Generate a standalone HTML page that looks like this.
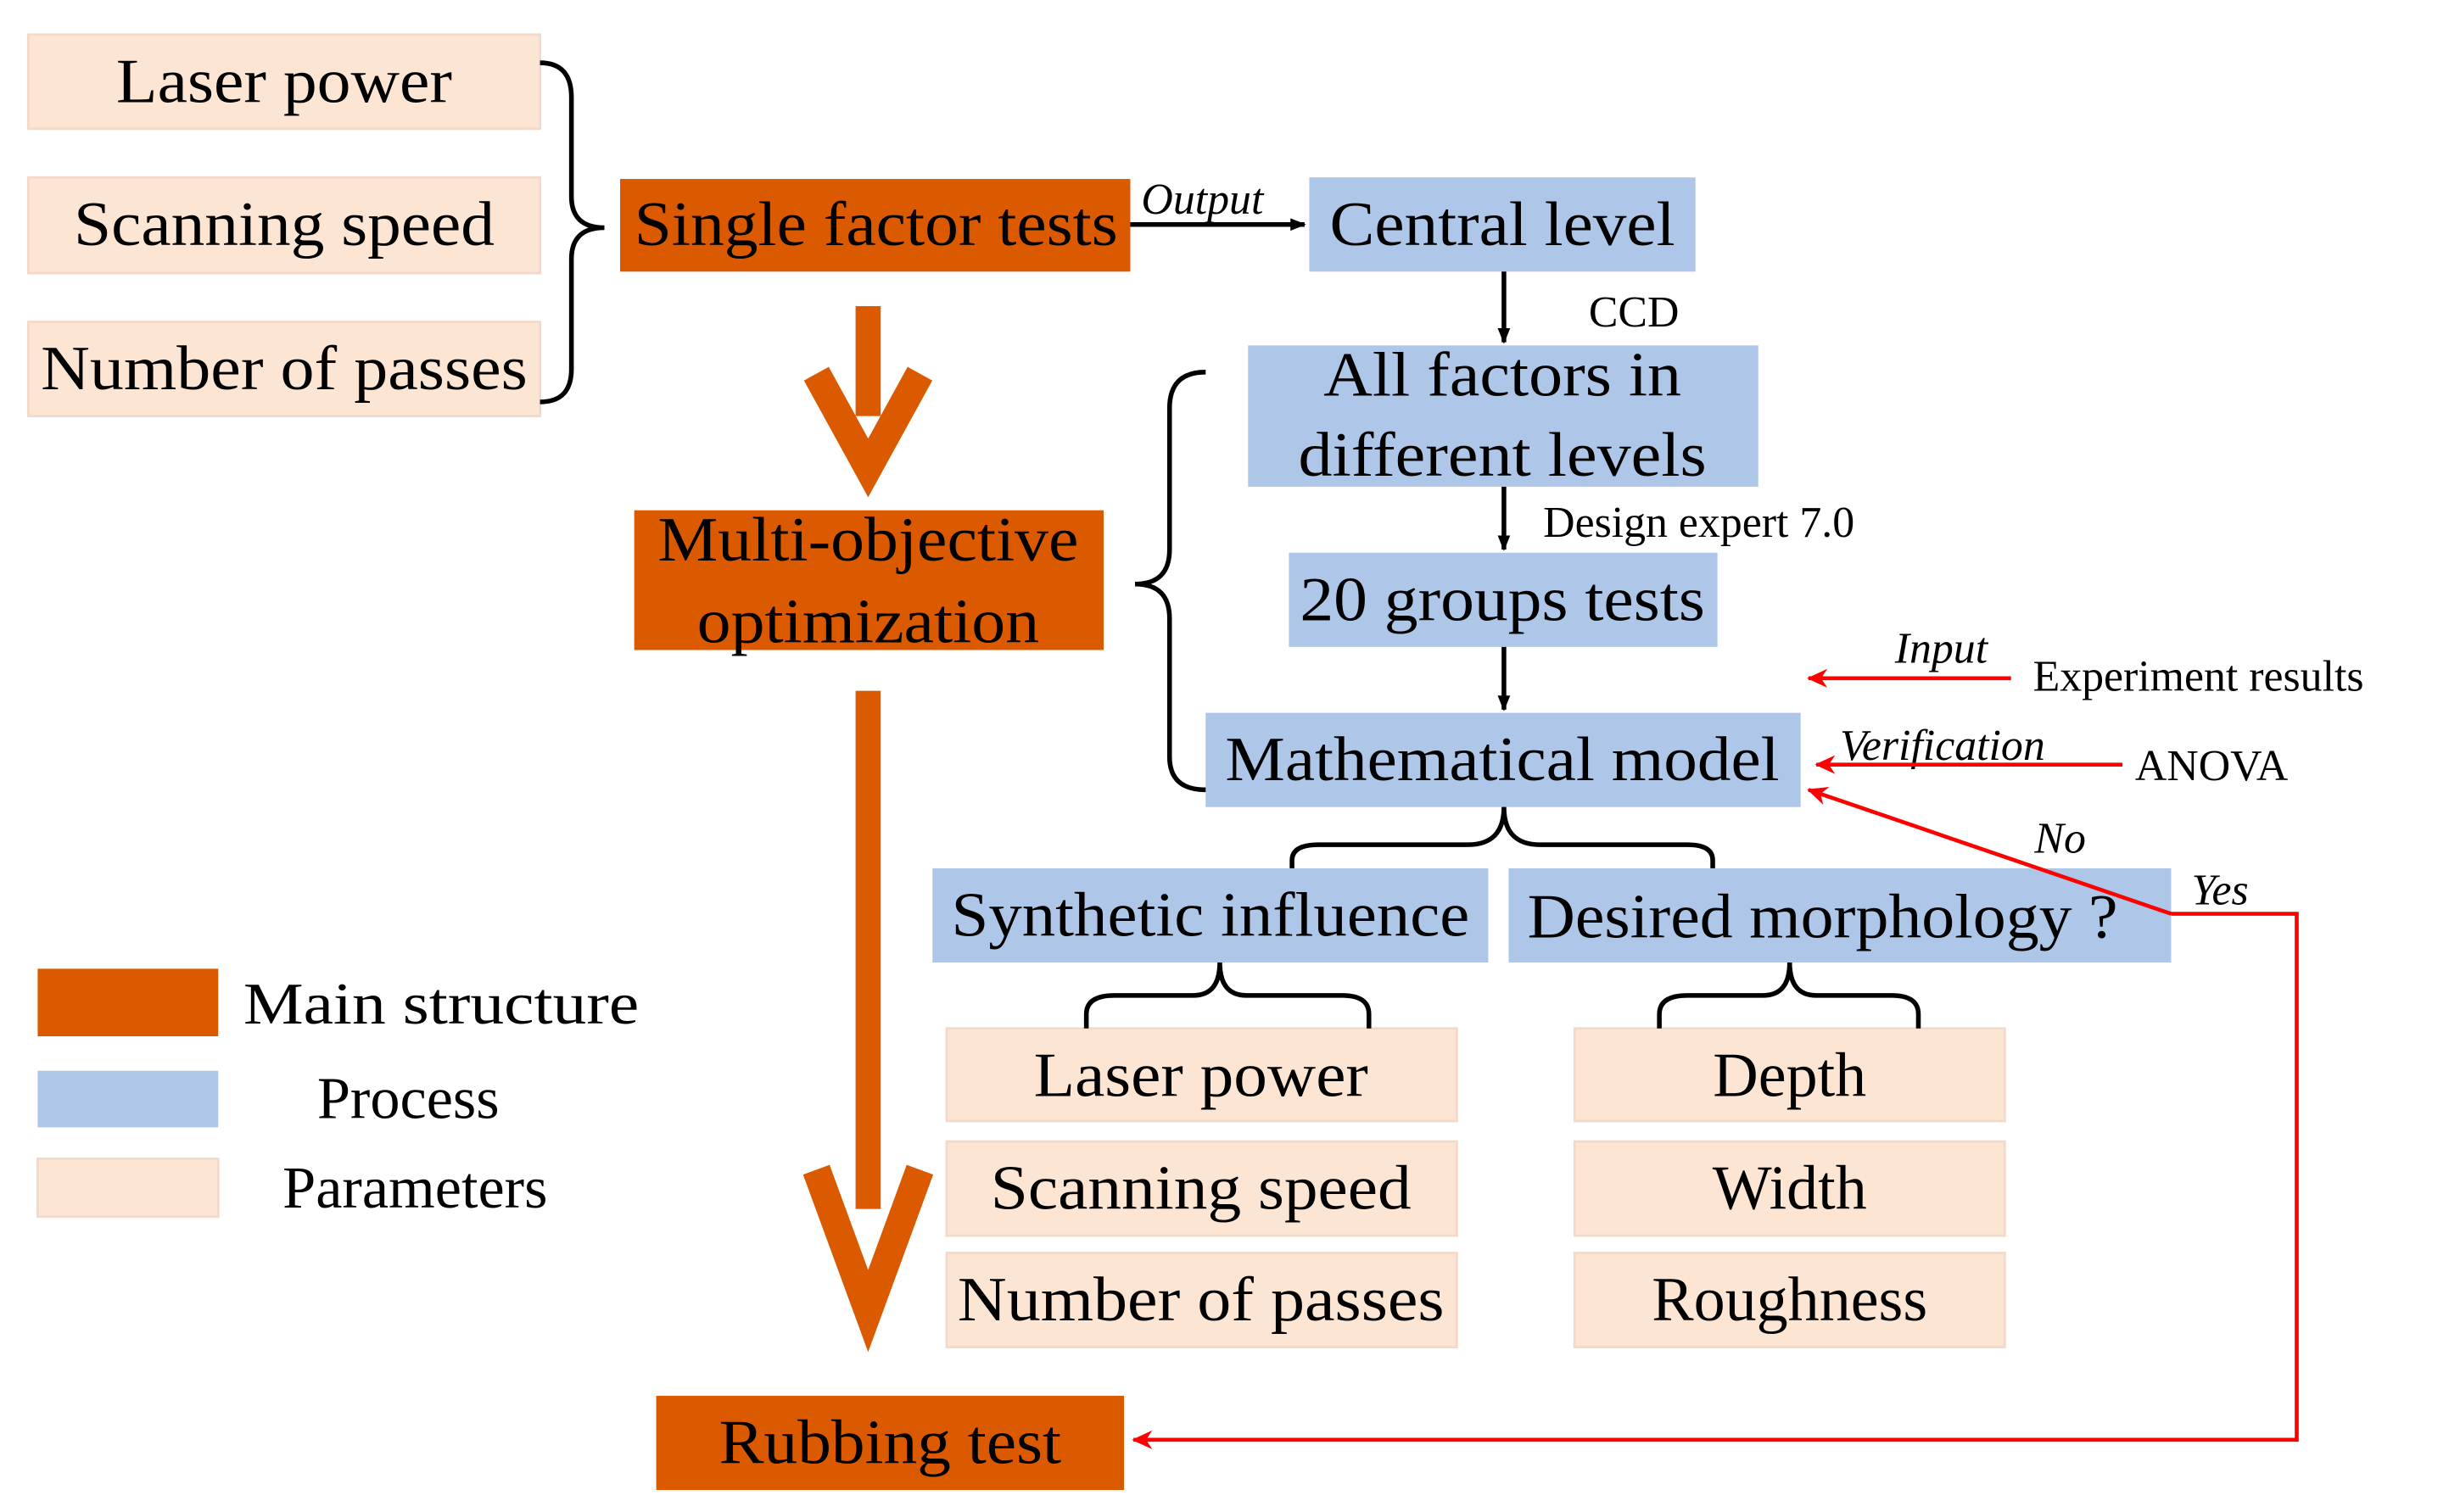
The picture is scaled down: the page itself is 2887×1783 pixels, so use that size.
<!DOCTYPE html>
<html><head><meta charset="utf-8"><style>html,body{margin:0;padding:0;background:#fff}svg{display:block}</style></head>
<body>
<svg width="2887" height="1783" viewBox="0 0 1560 963" preserveAspectRatio="none" xmlns="http://www.w3.org/2000/svg" font-family="'Liberation Serif', serif">
<defs>
<marker id="ab" markerWidth="10" markerHeight="10" refX="9" refY="5" orient="auto" markerUnits="userSpaceOnUse"><path d="M0,1 L10,5 L0,9 Z" fill="#000"/></marker>
<marker id="ar" markerWidth="14" markerHeight="14" refX="12" refY="7" orient="auto" markerUnits="userSpaceOnUse"><path d="M0,1 L13,7 L0,13 L4,7 Z" fill="#f00"/></marker>
</defs>
<g fill="#fde5d3" stroke="#f3d9c8" stroke-width="1.5">
<rect x="18" y="22" width="326" height="60"/><rect x="18" y="113" width="326" height="61"/><rect x="18" y="205" width="326" height="60"/>
<rect x="603" y="655" width="325" height="59"/><rect x="603" y="727" width="325" height="60"/><rect x="603" y="798" width="325" height="60"/>
<rect x="1003" y="655" width="274" height="59"/><rect x="1003" y="727" width="274" height="60"/><rect x="1003" y="798" width="274" height="60"/>
<rect x="24" y="738" width="115" height="37"/>
</g>
<g fill="#db5a00">
<rect x="395" y="114" width="325" height="59"/><rect x="404" y="325" width="299" height="89"/><rect x="418" y="889" width="298" height="60"/>
<rect x="24" y="617" width="115" height="43"/>
<rect x="545" y="195" width="16" height="70"/><rect x="545" y="440" width="16" height="330"/>
</g>
<g fill="none" stroke="#db5a00" stroke-width="18" stroke-linejoin="miter">
<polyline points="520,238 553,298 586,238"/><polyline points="520,745 553,835 586,745"/>
</g>
<g fill="#aec6e8">
<rect x="834" y="113" width="246" height="60"/><rect x="795" y="220" width="325" height="90"/><rect x="821" y="352" width="273" height="60"/>
<rect x="768" y="454" width="379" height="60"/><rect x="594" y="553" width="354" height="60"/><rect x="961" y="553" width="422" height="60"/>
<rect x="24" y="682" width="115" height="36"/>
</g>
<g font-size="40" fill="#000" text-anchor="middle">
<text x="181" y="65" textLength="214" lengthAdjust="spacingAndGlyphs">Laser power</text>
<text x="181" y="156" textLength="268" lengthAdjust="spacingAndGlyphs">Scanning speed</text>
<text x="181" y="248" textLength="310" lengthAdjust="spacingAndGlyphs">Number of passes</text>
<text x="558" y="156" textLength="308" lengthAdjust="spacingAndGlyphs">Single factor tests</text>
<text x="957" y="156" textLength="220" lengthAdjust="spacingAndGlyphs">Central level</text>
<text x="957" y="252" textLength="228" lengthAdjust="spacingAndGlyphs">All factors in</text>
<text x="957" y="303" textLength="260" lengthAdjust="spacingAndGlyphs">different levels</text>
<text x="957" y="395" textLength="258" lengthAdjust="spacingAndGlyphs">20 groups tests</text>
<text x="553" y="357" textLength="268" lengthAdjust="spacingAndGlyphs">Multi-objective</text>
<text x="553" y="409" textLength="218" lengthAdjust="spacingAndGlyphs">optimization</text>
<text x="957" y="497" textLength="353" lengthAdjust="spacingAndGlyphs">Mathematical model</text>
<text x="771" y="596" textLength="330" lengthAdjust="spacingAndGlyphs">Synthetic influence</text>
<text x="1161" y="597" textLength="376" lengthAdjust="spacingAndGlyphs">Desired morphology ?</text>
<text x="765" y="698" textLength="213" lengthAdjust="spacingAndGlyphs">Laser power</text>
<text x="765" y="770" textLength="268" lengthAdjust="spacingAndGlyphs">Scanning speed</text>
<text x="765" y="841" textLength="310" lengthAdjust="spacingAndGlyphs">Number of passes</text>
<text x="1140" y="698">Depth</text>
<text x="1140" y="770">Width</text>
<text x="1140" y="841">Roughness</text>
<text x="567" y="932" textLength="218" lengthAdjust="spacingAndGlyphs">Rubbing test</text>
</g>
<g font-size="38" fill="#000">
<text x="155" y="652" textLength="252" lengthAdjust="spacingAndGlyphs">Main structure</text>
<text x="202" y="712">Process</text>
<text x="180" y="769">Parameters</text>
</g>
<g font-size="28" fill="#000">
<text x="1012" y="208">CCD</text>
<text x="983" y="342">Design expert 7.0</text>
<text x="1295" y="440">Experiment results</text>
<text x="1360" y="497">ANOVA</text>
</g>
<g font-size="28" fill="#000" font-style="italic">
<text x="727" y="136">Output</text>
<text x="1207" y="422">Input</text>
<text x="1172" y="484">Verification</text>
<text x="1296" y="543">No</text>
<text x="1396" y="576">Yes</text>
</g>
<g stroke="#000" stroke-width="3" fill="none">
<line x1="720" y1="143" x2="831" y2="143" marker-end="url(#ab)"/>
<line x1="958" y1="173" x2="958" y2="218" marker-end="url(#ab)"/>
<line x1="958" y1="310" x2="958" y2="350" marker-end="url(#ab)"/>
<line x1="958" y1="412" x2="958" y2="452" marker-end="url(#ab)"/>
<path d="M344,40 Q364,40 364,62 L364,125 Q364,145 385,145 Q364,145 364,165 L364,235 Q364,256 344,256"/>
<path d="M768,237 Q745,237 745,260 L745,350 Q745,372 723,372 Q745,372 745,394 L745,482 Q745,503 768,503"/>
<path d="M823,553 L823,548 Q823,538 840,538 L935,538 Q958,538 958,514 Q958,538 981,538 L1075,538 Q1091,538 1091,548 L1091,553"/>
<path d="M692,655 L692,646 Q692,634 710,634 L760,634 Q777,634 777,613 Q777,634 794,634 L855,634 Q872,634 872,646 L872,655"/>
<path d="M1057,655 L1057,646 Q1057,634 1075,634 L1123,634 Q1140,634 1140,613 Q1140,634 1157,634 L1205,634 Q1222,634 1222,646 L1222,655"/>
</g>
<g stroke="#f00" stroke-width="2.5" fill="none">
<line x1="1281" y1="432" x2="1152" y2="432" marker-end="url(#ar)"/>
<line x1="1352" y1="487" x2="1157" y2="487" marker-end="url(#ar)"/>
<line x1="1383" y1="582" x2="1152" y2="503" marker-end="url(#ar)"/>
<polyline points="1383,582 1463,582 1463,917 722,917" marker-end="url(#ar)"/>
</g>
</svg>
</body></html>
